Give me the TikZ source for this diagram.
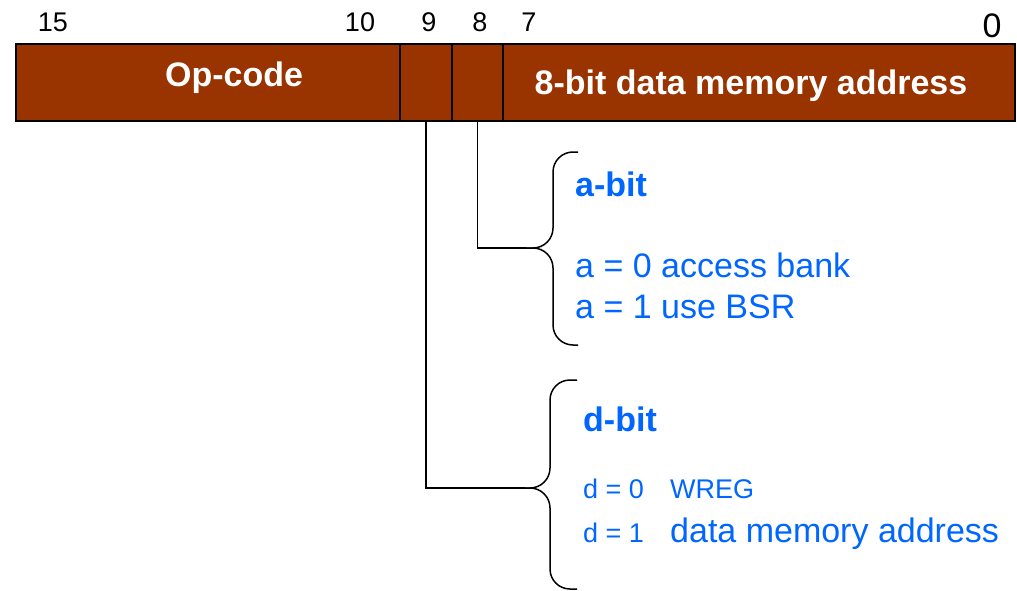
\documentclass[tikz,border=0pt]{standalone}
\usepackage{fontspec}
\setmainfont{Liberation Sans}
\usetikzlibrary{positioning}
\definecolor{fieldbrown}{RGB}{153,51,0}
\definecolor{bitblue}{RGB}{0,102,255}
\tikzset{
	% fields of the instruction word and the bit numbers above them
	field/.style={draw,fill=fieldbrown,line width=1.5pt,minimum height=77pt,inner sep=0,outer sep=0},
	fieldlabel/.style={text=white,font=\bfseries\fontsize{34}{40}\selectfont},
	bitnum/.style={anchor=base,font=\fontsize{27}{30}\selectfont},
	% lines down to the braces, and the braces
	wire/.style={draw,line width=1.5pt},
	bitbrace/.style={draw,line width=1.5pt,rounded corners=20pt},
	% blue notes next to the braces
	bithead/.style={anchor=base west,inner sep=0,text=bitblue,font=\bfseries\fontsize{34}{40}\selectfont},
	bitnote/.style={anchor=base west,inner sep=0,text=bitblue,font=\fontsize{34}{40}\selectfont},
	bitsmall/.style={anchor=base west,inner sep=0,text=bitblue,font=\fontsize{27}{30}\selectfont}
}

\begin{document}
\begin{tikzpicture}[x=1pt,y=-1pt]
\useasboundingbox (0,0) rectangle (1017,591);

% instruction word
\node[field,anchor=north west,minimum width=384pt,
	label={[fieldlabel,xshift=26pt,yshift=5pt]center:Op-code}] (opcode) at (16,44) {};
\node[field,minimum width=52pt,right=0pt of opcode] (dfield) {};
\node[field,minimum width=51pt,right=0pt of dfield] (afield) {};
\node[field,minimum width=512pt,right=0pt of afield,
	label={[fieldlabel,xshift=-8pt,yshift=-3pt]center:8-bit data memory address}] (addr) {};

% bit numbers
\foreach \n/\x in {15/53,10/360,9/429,8/480,7/529}
	\node[bitnum] (b\n) at (\x,32) {\n};
\node[bitnum,font=\fontsize{34}{40}\selectfont] (b0) at (992,38) {0};

% brace tips
\coordinate (atip) at (526,248);
\coordinate (dtip) at (525,488);

% a-bit
\draw[wire] (afield.south) |- (atip);
\draw[bitbrace] (578,152) -| (553,248) -- (atip);
\draw[bitbrace] (atip) -- (553,248) |- (578,345);
\node[bithead] (abit) at (575,196) {a-bit};
\node[bitnote] (azero) at (575,277) {a = 0 access bank};
\node[bitnote] (aone) at (575,318) {a = 1 use BSR};

% d-bit
\draw[wire] (dfield.south) |- (dtip);
\draw[bitbrace] (577,380) -| (550,488) -- (dtip);
\draw[bitbrace] (dtip) -- (550,488) |- (577,589);
\node[bithead] (dbit) at (583,431) {d-bit};
\node[bitsmall] (dzero) at (583,498) {d = 0};
\node[bitsmall] (dwreg) at (670,498) {WREG};
\node[bitsmall] (done) at (583,542) {d = 1};
\node[bitnote] (dmem) at (670,542) {data memory address};

\end{tikzpicture}
\end{document}
